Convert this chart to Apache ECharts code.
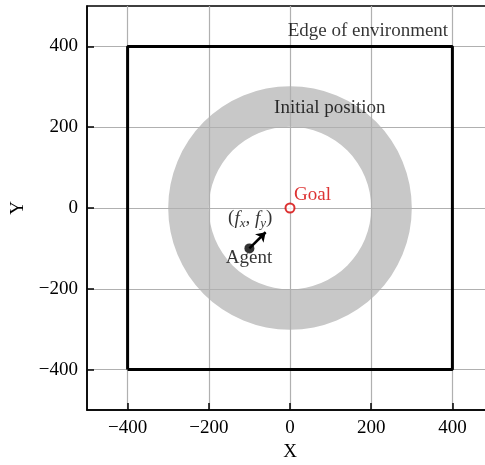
<!DOCTYPE html>
<html><head><meta charset="utf-8">
<script src="https://cdn.jsdelivr.net/npm/echarts@6/dist/echarts.min.js"></script>
<style>html,body{margin:0;padding:0;background:#fff;overflow:hidden}#c{width:485px;height:465px}</style>
</head><body><div id="c"></div>
<script>
const axisRange = [-500, 500];
const xTicks = [-400, -200, 0, 200, 400];
const yTicks = [-400, -200, 0, 200, 400];
const envBox = [[-400, -400], [400, -400], [400, 400], [-400, 400], [-400, -400]];
const ring = [[0, 0, 200, 300]]; // cx, cy, inner radius, outer radius
const goal = [0, 0];
const agent = [-100, -100];
const forceTip = [-60, -60];
const annotations = [
  { name: 'Edge of environment', at: [192, 438] },
  { name: 'Initial position', at: [98, 247] },
  { name: 'Agent', at: [-101, -124] },
  { name: 'force', at: [-98, -26] },
  { name: 'Goal', at: [10, 33] }
];

const FONT = '"Liberation Serif", "Times New Roman", serif';
const FS = 19;
const fmt = v => String(v).replace('-', '\u2212');

const axisCommon = (ticks, margin) => ({
  type: 'value', min: axisRange[0], max: axisRange[1], zlevel: 1, z: 3,
  axisLine: { show: true, onZero: false, lineStyle: { color: '#000', width: 1.5 } },
  axisTick: { show: true, inside: true, length: 7, customValues: ticks, lineStyle: { color: '#000', width: 1.5 } },
  axisLabel: { customValues: ticks, formatter: fmt, color: '#000', fontFamily: FONT, fontSize: FS, margin: margin },
  splitLine: { show: true, lineStyle: { color: '#b0b0b0', width: 1.2 } },
  nameTextStyle: { color: '#000', fontFamily: FONT, fontSize: FS }
});

const labelItem = (a) => {
  const base = { value: a.at, label: { show: true, position: 'inside', fontFamily: FONT, fontSize: FS, color: '#000' } };
  if (a.name === 'Goal') {
    base.label.position = 'right'; base.label.distance = 0; base.label.color = '#d40000'; base.label.formatter = 'Goal';
  } else if (a.name === 'force') {
    base.label.formatter = '{n|(}{i|f}{s|x}{n|, }{i|f}{s|y}{n|)}';
    base.label.rich = {
      n: { fontFamily: FONT, fontSize: FS, color: '#000', lineHeight: 24 },
      i: { fontFamily: FONT, fontStyle: 'italic', fontSize: FS, color: '#000', lineHeight: 24 },
      s: { fontFamily: FONT, fontStyle: 'italic', fontSize: 13, color: '#000', verticalAlign: 'bottom', lineHeight: 24, padding: [9, 0, 0, 0] }
    };
  } else {
    base.label.formatter = a.name;
  }
  return base;
};

const chart = echarts.init(document.getElementById('c'), null, { renderer: 'canvas' });
chart.setOption({
  animation: false,
  backgroundColor: '#fff',
  grid: { left: 87, width: 406, top: 6, height: 404, containLabel: false, outerBoundsMode: 'none', show: true, borderColor: '#000', borderWidth: 1.5, backgroundColor: 'transparent', zlevel: 1 },
  xAxis: Object.assign(axisCommon(xTicks, 9), { name: 'X', nameLocation: 'middle', nameGap: 32 }),
  yAxis: Object.assign(axisCommon(yTicks, 9), { name: 'Y', nameLocation: 'middle', nameGap: 55 }),
  series: [
    {
      type: 'custom', zlevel: 0, z: 1, data: ring, silent: true,
      renderItem: (params, api) => {
        const c = api.coord([api.value(0), api.value(1)]);
        const r0 = api.coord([api.value(2), 0])[0] - api.coord([0, 0])[0];
        const r = api.coord([api.value(3), 0])[0] - api.coord([0, 0])[0];
        return { type: 'ring', shape: { cx: c[0], cy: c[1], r: r, r0: r0 }, style: { fill: '#c8c8c8' } };
      }
    },
    {
      type: 'line', zlevel: 2, z: 5, data: envBox, symbol: 'none',
      lineStyle: { color: '#000', width: 3 }
    },
    {
      type: 'lines', coordinateSystem: 'cartesian2d', zlevel: 2, z: 6,
      data: [{ coords: [agent, forceTip] }],
      symbol: ['none', 'arrow'], symbolSize: 9,
      lineStyle: { color: '#000', width: 2.5, opacity: 1 }
    },
    {
      type: 'scatter', zlevel: 2, z: 7, data: [agent], symbol: 'circle', symbolSize: 10,
      itemStyle: { color: '#000' }
    },
    {
      type: 'scatter', zlevel: 2, z: 7, data: [goal], symbol: 'circle', symbolSize: 9,
      itemStyle: { color: '#fff', borderColor: '#d40000', borderWidth: 2 }
    },
    {
      type: 'scatter', zlevel: 2, z: 8, symbolSize: 0, silent: true,
      data: annotations.map(labelItem)
    }
  ]
});
</script></body></html>
